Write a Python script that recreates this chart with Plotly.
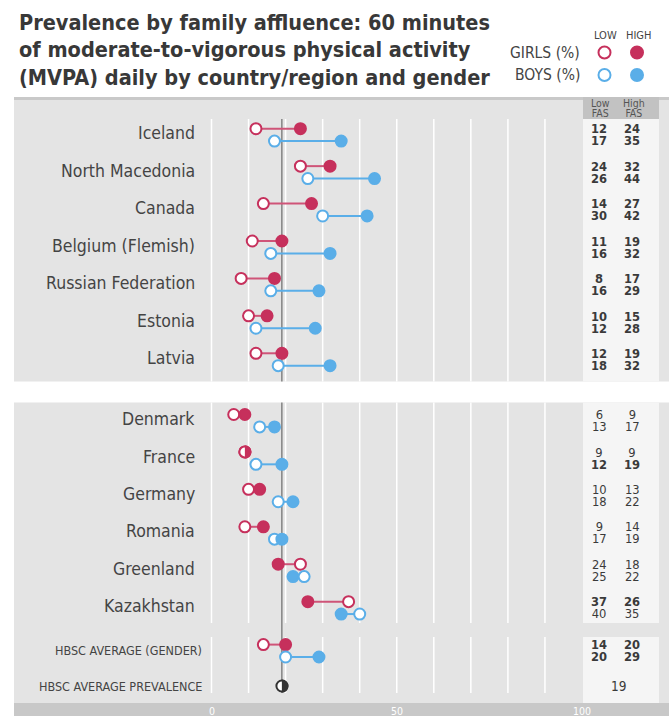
import plotly.graph_objects as go

# ---------------- data ----------------
countries = ["Iceland", "North Macedonia", "Canada", "Belgium (Flemish)",
             "Russian Federation", "Estonia", "Latvia",
             "Denmark", "France", "Germany", "Romania", "Greenland", "Kazakhstan"]
group_sizes = [7, 6]
girls_low = [12, 24, 14, 11, 8, 10, 12, 6, 9, 10, 9, 24, 37]
girls_high = [24, 32, 27, 19, 17, 15, 19, 9, 9, 13, 14, 18, 26]
boys_low = [17, 26, 30, 16, 16, 12, 18, 13, 12, 18, 17, 25, 40]
boys_high = [35, 44, 42, 32, 29, 28, 32, 17, 19, 22, 19, 22, 35]
girls_sig = [1, 1, 1, 1, 1, 1, 1, 0, 0, 0, 0, 0, 1]
boys_sig = [1, 1, 1, 1, 1, 1, 1, 0, 1, 0, 0, 0, 0]

avg_gender_label = "HBSC AVERAGE (GENDER)"
avg_girls = [14, 20]   # low, high
avg_boys = [20, 29]
avg_prev_label = "HBSC AVERAGE PREVALENCE"
avg_prev = 19

x_tick_labels = [0, 50, 100]
grid_values = list(range(0, 100, 10))

title_lines = ["Prevalence by family affluence: 60 minutes",
               "of moderate-to-vigorous physical activity",
               "(MVPA) daily by country/region and gender"]

# ---------------- styling / layout constants ----------------
W, H = 669, 716
PX0, PX100 = 211.5, 582.0
UNIT = (PX100 - PX0) / 100.0


def xv(px):
    return (px - PX0) / UNIT


def xp(px):
    return px / W


FONT = "Liberation Sans Narrow, DejaVu Sans Condensed, Arial Narrow, sans-serif"
TXT = "#444444"
CRIM = "#c6305c"
CRIM_LINE = "#cf5478"
BLUE = "#5aaee8"
BG = "#e4e4e4"
TABLE_BG = "#f5f5f5"

G1_START, G2_START, STEP = 134.9, 420.7, 37.43
OFF = 6.2
Y_AVG_G, Y_AVG_P = 650.8, 686.0

row_mid = []
for g, start in zip(group_sizes, [G1_START, G2_START]):
    for k in range(g):
        row_mid.append(start + STEP * k)

fig = go.Figure()
shapes = []
annotations = []

# backgrounds
shapes.append(dict(type="rect", xref="paper", yref="y", x0=xp(14), x1=1, y0=97, y1=381.5,
                   fillcolor=BG, line_width=0, layer="below"))
shapes.append(dict(type="rect", xref="paper", yref="y", x0=xp(14), x1=1, y0=97, y1=100,
                   fillcolor="#c9c9c9", line_width=0, layer="below"))
shapes.append(dict(type="rect", xref="paper", yref="y", x0=xp(14), x1=1, y0=402.5, y1=703,
                   fillcolor=BG, line_width=0, layer="below"))
shapes.append(dict(type="rect", xref="paper", yref="y", x0=xp(14), x1=1, y0=703, y1=H,
                   fillcolor="#c8c8c8", line_width=0, layer="below"))
# table column
for y0, y1 in [(119, 381.5), (402.5, 623), (637, 703)]:
    shapes.append(dict(type="rect", xref="paper", yref="y", x0=xp(583), x1=xp(659), y0=y0, y1=y1,
                       fillcolor=TABLE_BG, line_width=0, layer="below"))
shapes.append(dict(type="rect", xref="paper", yref="y", x0=xp(583), x1=xp(659), y0=97, y1=119,
                   fillcolor="#c2c2c2", line_width=0, layer="below"))
# gridlines
for gv in grid_values:
    for y0, y1 in [(119, 381.5), (402.5, 623), (637, 693)]:
        shapes.append(dict(type="line", xref="x", yref="y", x0=gv, x1=gv, y0=y0, y1=y1,
                           line=dict(color="white", width=1.5), layer="below"))
# average line
for y0, y1 in [(119, 381.5), (402.5, 693)]:
    shapes.append(dict(type="line", xref="x", yref="y", x0=avg_prev, x1=avg_prev, y0=y0, y1=y1,
                       line=dict(color="#555555", width=1), layer="below"))

MS, LW = 11, 2


def half_disk(xval, yval, color, r=6.6):
    k = 0.5523 * r
    path = (f"M 0,{-r} C {k},{-r} {r},{-k} {r},0 C {r},{k} {k},{r} 0,{r} Z")
    return dict(type="path", xsizemode="pixel", ysizemode="pixel", xanchor=xval, yanchor=yval,
                xref="x", yref="y", path=path, fillcolor=color, line_width=0, layer="above")


def add_series(lo, hi, ys, color, line_color):
    lx, ly = [], []
    for a, b, y in zip(lo, hi, ys):
        lx += [a, b, None]
        ly += [y, y, None]
    fig.add_trace(go.Scatter(x=lx, y=ly, mode="lines", line=dict(color=line_color, width=2),
                             hoverinfo="skip"))
    ux, uy, uf, ox, oy, of = [], [], [], [], [], []
    for a, b, y in zip(lo, hi, ys):
        if a < b:
            ux.append(a); uf.append("white"); ox.append(b); of.append(color)
        elif a > b:
            ux.append(b); uf.append(color); ox.append(a); of.append("white")
        else:
            ux.append(b); uf.append(color); ox.append(a); of.append("white")
            shapes.append(half_disk(a, y, color))
        uy.append(y); oy.append(y)
    for xs_, ys_, fs_ in [(ux, uy, uf), (ox, oy, of)]:
        fig.add_trace(go.Scatter(x=xs_, y=ys_, mode="markers",
                                 marker=dict(size=MS, color=fs_, line=dict(color=color, width=LW)),
                                 hoverinfo="skip"))


ys_g = [m - OFF for m in row_mid] + [Y_AVG_G - OFF]
ys_b = [m + OFF for m in row_mid] + [Y_AVG_G + OFF]
add_series(girls_low + [avg_girls[0]], girls_high + [avg_girls[1]], ys_g, CRIM, CRIM_LINE)
add_series(boys_low + [avg_boys[0]], boys_high + [avg_boys[1]], ys_b, BLUE, BLUE)

# average prevalence marker
fig.add_trace(go.Scatter(x=[avg_prev], y=[Y_AVG_P], mode="markers",
                         marker=dict(size=MS, color="white", line=dict(color="#333333", width=LW)),
                         hoverinfo="skip"))
shapes.append(half_disk(avg_prev, Y_AVG_P, "#333333"))

# row labels
for name, m in zip(countries, row_mid):
    annotations.append(dict(x=xp(197), xref="paper", y=m - 1.5, yref="y", text=name,
                            xanchor="right", yanchor="middle", showarrow=False,
                            font=dict(family=FONT, size=17.5, color=TXT)))
for lab, yy in [(avg_gender_label, Y_AVG_G), (avg_prev_label, Y_AVG_P)]:
    annotations.append(dict(x=xp(204), xref="paper", y=yy, yref="y", text=lab,
                            xanchor="right", yanchor="middle", showarrow=False,
                            font=dict(family=FONT, size=12.5, color=TXT)))

# table values (two stacked lines per cell; base size sets the tight line spacing)
LOW_X, HIGH_X = 599, 632
SPACING = 2 * OFF
BASE = SPACING / 1.3


def fmt(v, bold, size=12.8):
    inner = f"<b>{v}</b>" if bold else f"{v}"
    return f"<span style='font-size:{size}px'>{inner}</span>"


def pair_cell(vg, sg, vb, sb, x, ymid):
    annotations.append(dict(x=xp(x), xref="paper", y=ymid, yref="y",
                            text=fmt(vg, sg) + "<br>" + fmt(vb, sb),
                            xanchor="center", yanchor="middle", align="center", showarrow=False,
                            font=dict(family=FONT, size=BASE, color="#3a3a3a")))


mids = row_mid + [Y_AVG_G]
gl = girls_low + [avg_girls[0]]
gh = girls_high + [avg_girls[1]]
bl = boys_low + [avg_boys[0]]
bh = boys_high + [avg_boys[1]]
gs = girls_sig + [1]
bs = boys_sig + [1]
for i, m in enumerate(mids):
    pair_cell(gl[i], gs[i], bl[i], bs[i], LOW_X, m)
    pair_cell(gh[i], gs[i], bh[i], bs[i], HIGH_X, m)
annotations.append(dict(x=xp(618), xref="paper", y=Y_AVG_P, yref="y", text=str(avg_prev),
                        xanchor="center", yanchor="middle", showarrow=False,
                        font=dict(family=FONT, size=13.5, color="#3a3a3a")))

# table header
for lab, x in [("Low", 600), ("High", 634)]:
    annotations.append(dict(x=xp(x), xref="paper", y=108, yref="y",
                            text=f"<span style='font-size:10.5px'>{lab}</span><br>"
                                 f"<span style='font-size:10.5px'>FAS</span>",
                            xanchor="center", yanchor="middle", align="center", showarrow=False,
                            font=dict(family=FONT, size=10 / 1.3, color="#555555")))

# x tick labels
for v in x_tick_labels:
    annotations.append(dict(x=v, xref="x", y=711, yref="y", text=str(v),
                            xanchor="center", yanchor="middle", showarrow=False,
                            font=dict(family=FONT, size=10.5, color="white")))

# title
for i, line in enumerate(title_lines):
    annotations.append(dict(x=xp(17), xref="paper", y=22 + 27.5 * i, yref="y",
                            text=f"<b>{line}</b>", xanchor="left", yanchor="middle",
                            showarrow=False, font=dict(family=FONT, size=21.5, color="#383838")))

# legend
annotations.append(dict(x=xp(605), xref="paper", y=35, yref="y", text="LOW", xanchor="center",
                        yanchor="middle", showarrow=False, font=dict(family=FONT, size=11, color=TXT)))
annotations.append(dict(x=xp(638), xref="paper", y=35, yref="y", text="HIGH", xanchor="center",
                        yanchor="middle", showarrow=False, font=dict(family=FONT, size=11, color=TXT)))
for lab, yy, col in [("GIRLS (%)", 52.5, CRIM), ("BOYS (%)", 75, BLUE)]:
    annotations.append(dict(x=xp(582), xref="paper", y=yy, yref="y", text=lab, xanchor="right",
                            yanchor="middle", showarrow=False,
                            font=dict(family=FONT, size=15.5, color=TXT)))
    fig.add_trace(go.Scatter(x=[xv(604.5), xv(637)], y=[yy, yy], mode="markers",
                             marker=dict(size=12, color=["white", col],
                                         line=dict(color=col, width=2)),
                             hoverinfo="skip"))

fig.update_layout(
    width=W, height=H, margin=dict(l=0, r=0, t=0, b=0),
    paper_bgcolor="white", plot_bgcolor="rgba(0,0,0,0)",
    showlegend=False,
    xaxis=dict(range=[xv(0), xv(W)], visible=False, fixedrange=True),
    yaxis=dict(range=[H, 0], visible=False, fixedrange=True),
    shapes=shapes, annotations=annotations,
)

fig.write_html("out.html", config={"displayModeBar": False},
               post_script="document.body.style.margin='0';document.body.style.padding='0';"
                           "document.documentElement.style.overflow='hidden';")
